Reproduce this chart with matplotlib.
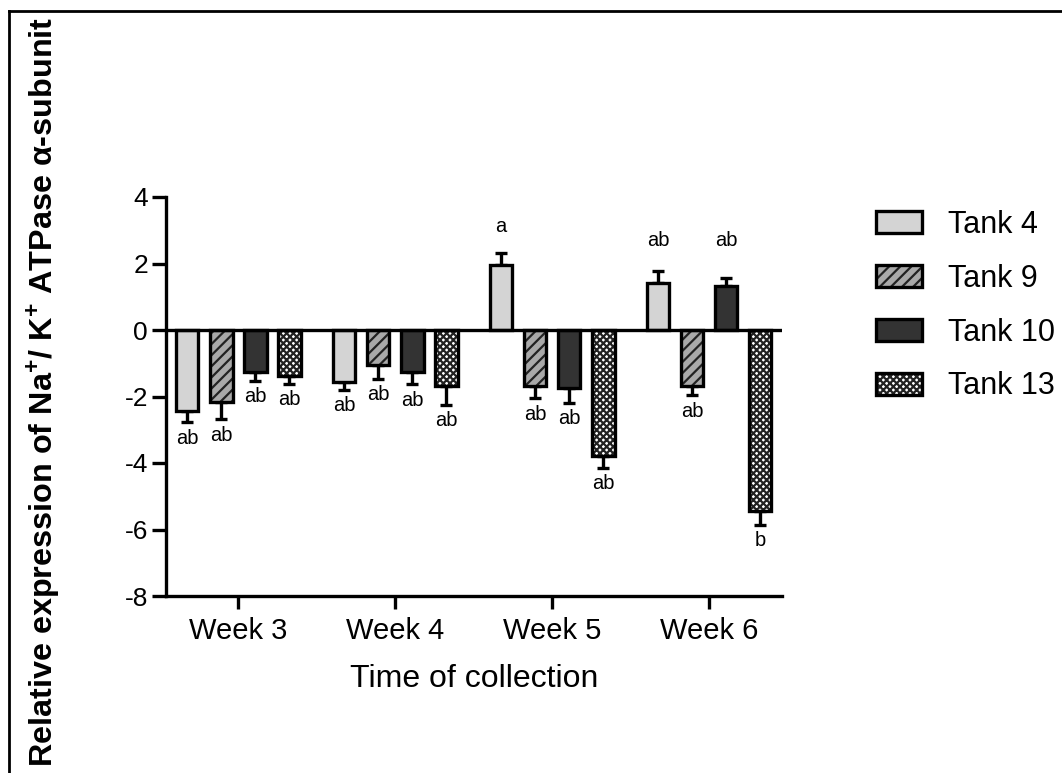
import numpy as np
import matplotlib
matplotlib.use("Agg")
import matplotlib.pyplot as plt
from matplotlib.lines import Line2D

plt.rcParams['font.family'] = ['Liberation Sans', 'DejaVu Sans']
plt.rcParams['mathtext.fontset'] = 'custom'
plt.rcParams['mathtext.rm'] = 'Liberation Sans'
plt.rcParams['mathtext.bf'] = 'Liberation Sans:bold'
plt.rcParams['hatch.linewidth'] = 1.6

weeks = ["Week 3", "Week 4", "Week 5", "Week 6"]
tanks = ["Tank 4", "Tank 9", "Tank 10", "Tank 13"]
means = {
    "Tank 4":  [-2.45, -1.57, 1.96, 1.42],
    "Tank 9":  [-2.17, -1.05, -1.69, -1.69],
    "Tank 10": [-1.27, -1.27, -1.74, 1.33],
    "Tank 13": [-1.39, -1.69, -3.80, -5.45],
}
sems = {
    "Tank 4":  [0.33, 0.23, 0.37, 0.36],
    "Tank 9":  [0.52, 0.42, 0.37, 0.27],
    "Tank 10": [0.25, 0.36, 0.45, 0.24],
    "Tank 13": [0.22, 0.56, 0.34, 0.40],
}
letters = {
    "Tank 4":  ["ab", "ab", "a", "ab"],
    "Tank 9":  ["ab", "ab", "ab", "ab"],
    "Tank 10": ["ab", "ab", "ab", "ab"],
    "Tank 13": ["ab", "ab", "ab", "b"],
}
yticks = [-8, -6, -4, -2, 0, 2, 4]

styles = {
    "Tank 4":  dict(facecolor="#d4d4d4", hatch=None),
    "Tank 9":  dict(facecolor="#a9a9a9", hatch="///"),
    "Tank 10": dict(facecolor="#333333", hatch=None),
    "Tank 13": dict(facecolor="white", hatch="xxxxx"),
}

W, H = 1062, 773
fig = plt.figure(figsize=(W / 100, H / 100), dpi=100)
fig.patch.set_facecolor("white")
ax = fig.add_axes([166 / W, 1 - 596 / H, (782 - 166) / W, (596 - 197) / H])

x = np.arange(len(weeks))
offsets = np.array([-1.5, -0.5, 0.5, 1.5]) * 0.217
bw = 0.145
lw = 2.4

for i, t in enumerate(tanks):
    vals = np.array(means[t])
    errs = np.array(sems[t])
    lo = np.where(vals < 0, errs, 0)
    hi = np.where(vals >= 0, errs, 0)
    xs = x + offsets[i]
    ax.errorbar(xs, vals, yerr=[lo, hi], fmt="none", ecolor="black",
                elinewidth=lw, capsize=4, capthick=lw, zorder=2)
    st = styles[t]
    bars = ax.bar(xs, vals, width=bw, facecolor=st["facecolor"],
                  edgecolor="black", linewidth=lw, hatch=st["hatch"], zorder=3,
                  label=t)
    if st["hatch"]:
        for b in bars:
            b._hatch_color = matplotlib.colors.to_rgba("#222222")
    for xi, v, e, lab in zip(xs, vals, errs, letters[t]):
        if v >= 0:
            yv = 3.1 if lab == "a" else 2.7
            ax.text(xi, yv, lab, ha="center", va="center", fontsize=14.5)
        else:
            ax.annotate(lab, (xi, v - e), xytext=(0, -11.5), textcoords="offset points",
                        ha="center", va="center", fontsize=14.5)

ax.axhline(0, color="black", linewidth=lw, zorder=4)
ax.set_ylim(-8, 4)
ax.set_xlim(-0.46, 3.465)
ax.set_yticks(yticks)
ax.set_yticklabels([str(v) for v in yticks])
ax.set_xticks(x)
ax.set_xticklabels(weeks)
for s in ["top", "right"]:
    ax.spines[s].set_visible(False)
for s in ["left", "bottom"]:
    ax.spines[s].set_linewidth(lw)
ax.tick_params(axis="y", labelsize=19, width=lw, length=10, pad=3)
ax.tick_params(axis="x", labelsize=21, width=lw, length=9, pad=6)
ax.set_xlabel("Time of collection", fontsize=23, labelpad=14)

leg = ax.legend(loc="upper left", bbox_to_anchor=(876 / W, 1 - 210 / H),
                bbox_transform=fig.transFigure, frameon=False, fontsize=22,
                handlelength=1.5, handleheight=0.72, handletextpad=0.85,
                labelspacing=0.78, borderpad=0, borderaxespad=0)

fig.text(44 / W, 1 - 392 / H,
         r"Relative expression of Na$^{\mathbf{+}}$/ K$^{\mathbf{+}}$ ATPase α-subunit",
         rotation=90, ha="center", va="center", fontsize=23.3, fontweight="bold")

# outer frame lines (top and left)
fig.add_artist(Line2D([9 / W, 1], [1 - 11 / H, 1 - 11 / H], transform=fig.transFigure,
                      color="black", linewidth=2, zorder=10))
fig.add_artist(Line2D([9 / W, 9 / W], [0, 1 - 11 / H], transform=fig.transFigure,
                      color="black", linewidth=2, zorder=10))

fig.savefig("out.png", dpi=100, facecolor="white")
